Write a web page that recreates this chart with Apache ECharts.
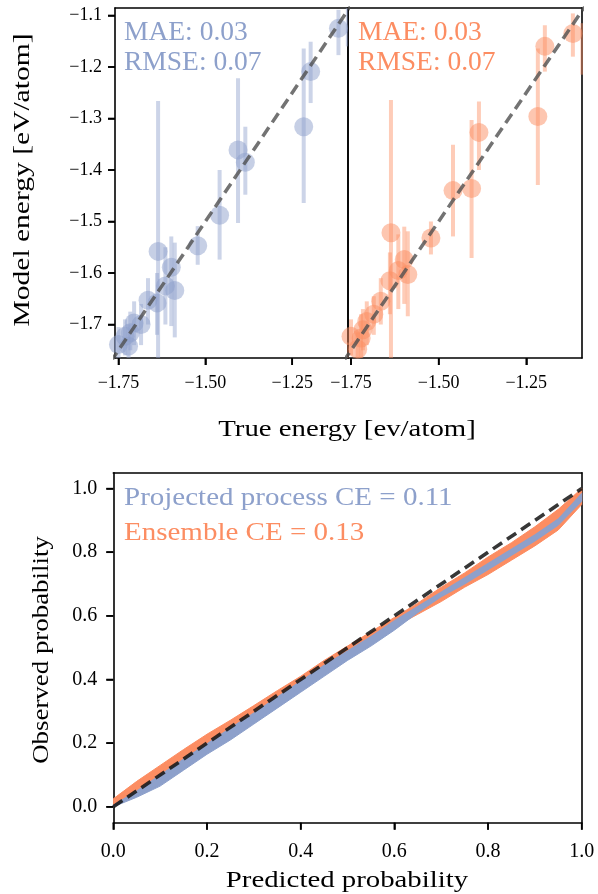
<!DOCTYPE html>
<html><head><meta charset="utf-8">
<script src="https://cdn.jsdelivr.net/npm/echarts@6/dist/echarts.min.js"></script>
<style>html,body{margin:0;padding:0;background:#fff}#c{width:598px;height:894px}</style>
</head><body><div id="c"></div>
<script>
// ---- data ----
const trueE   = [-1.762,-1.750,-1.731,-1.721,-1.716,-1.705,-1.685,-1.665,-1.639,-1.636,-1.615,-1.598,-1.588,-1.522,-1.459,-1.406,-1.385,-1.217,-1.197,-1.117,-1.090];
const ppMean  = [-1.752,-1.739,-1.723,-1.742,-1.716,-1.697,-1.700,-1.653,-1.658,-1.558,-1.625,-1.589,-1.634,-1.547,-1.488,-1.361,-1.385,-1.316,-1.209,-1.125,-1.120];
const ppLo    = [-1.780,-1.770,-1.760,-1.780,-1.750,-1.740,-1.740,-1.700,-1.720,-1.850,-1.700,-1.703,-1.725,-1.584,-1.574,-1.503,-1.448,-1.464,-1.270,-1.177,-1.160];
const ppHi    = [-1.725,-1.705,-1.690,-1.700,-1.675,-1.655,-1.660,-1.610,-1.600,-1.266,-1.550,-1.529,-1.541,-1.509,-1.400,-1.222,-1.316,-1.164,-1.151,-1.089,-1.070];
const ensMean = [-1.765,-1.723,-1.748,-1.726,-1.710,-1.694,-1.680,-1.655,-1.615,-1.522,-1.595,-1.574,-1.603,-1.532,-1.440,-1.436,-1.327,-1.296,-1.160,-1.135,-1.134];
const ensLo   = [-1.800,-1.760,-1.780,-1.770,-1.750,-1.740,-1.720,-1.700,-1.680,-1.780,-1.670,-1.660,-1.684,-1.564,-1.529,-1.571,-1.400,-1.429,-1.209,-1.180,-1.215];
const ensHi   = [-1.735,-1.690,-1.715,-1.680,-1.670,-1.655,-1.645,-1.610,-1.560,-1.264,-1.525,-1.510,-1.519,-1.500,-1.351,-1.303,-1.267,-1.164,-1.119,-1.096,-1.115];
const diag = [-1.8, -1.0];
const energyYTicks = [-1.7,-1.6,-1.5,-1.4,-1.3,-1.2,-1.1];
const energyXTicks = [-1.75,-1.5,-1.25];

const probX     = [0,0.05,0.1,0.15,0.2,0.25,0.3,0.35,0.4,0.45,0.5,0.55,0.6,0.65,0.7,0.75,0.8,0.85,0.9,0.95,1.0];
const ensBandLo = [0,0.045,0.095,0.145,0.195,0.245,0.29,0.34,0.39,0.435,0.48,0.525,0.565,0.605,0.645,0.69,0.73,0.775,0.82,0.87,0.95];
const ensBandHi = [0.025,0.08,0.13,0.18,0.228,0.272,0.318,0.365,0.41,0.46,0.505,0.55,0.595,0.64,0.69,0.735,0.785,0.83,0.88,0.935,1.0];
const ppBandLo  = [0,0.03,0.065,0.115,0.165,0.21,0.26,0.31,0.36,0.41,0.46,0.505,0.555,0.61,0.66,0.70,0.745,0.79,0.835,0.885,0.96];
const ppBandHi  = [0.005,0.05,0.1,0.15,0.198,0.248,0.295,0.345,0.395,0.445,0.49,0.535,0.585,0.63,0.675,0.72,0.765,0.81,0.855,0.905,0.985];
const probDiag = [0, 1];
const probTicks = [0,0.2,0.4,0.6,0.8,1.0];

// ---- style ----
const BLUE = '#8da0cb', ORANGE = '#fc8d62';
const FONT = 'Liberation Serif';
const TICK = 7;
const fmt = d => v => (v < 0 ? '\u2212' : '') + Math.abs(v).toFixed(d);

const chart = echarts.init(document.getElementById('c'), null, {renderer: 'canvas'});

function grid(l, t, w, h) {
  return {left: l, top: t, width: w, height: h, show: false, containLabel: false};
}
const AXLINE = {show: true, onZero: false, lineStyle: {color: '#000', width: 1.6}};
function mainAx(gi, pos, min, max, ticks, dec, size, margin, showLab) {
  return {type: 'value', gridIndex: gi, position: pos, min, max, splitLine: {show: false},
    axisLine: AXLINE,
    axisTick: {show: showLab, inside: false, length: TICK, lineStyle: {color: '#000', width: 1.6}, customValues: ticks},
    axisLabel: {show: showLab, customValues: ticks, formatter: fmt(dec), fontFamily: FONT, fontSize: size, color: '#000', margin}};
}
function frameAx(gi, pos, min, max) {
  return {type: 'value', gridIndex: gi, position: pos, min, max, splitLine: {show: false},
    axisLine: AXLINE, axisTick: {show: false}, axisLabel: {show: false}};
}

function errSeries(xi, yi, lo, hi, color) {
  return {type: 'custom', xAxisIndex: xi, yAxisIndex: yi, clip: true, z: 2,
    data: trueE.map((t, i) => [t, lo[i], hi[i]]),
    encode: {x: 0, y: [1, 2]},
    renderItem: (params, api) => {
      const a = api.coord([api.value(0), api.value(1)]);
      const b = api.coord([api.value(0), api.value(2)]);
      return {type: 'line', shape: {x1: a[0], y1: a[1], x2: b[0], y2: b[1]},
        style: {stroke: color, lineWidth: 4, opacity: 0.45}};
    }};
}
function ptSeries(xi, yi, mean, color) {
  return {type: 'scatter', xAxisIndex: xi, yAxisIndex: yi, clip: true, z: 3,
    symbolSize: 19, itemStyle: {color: color, opacity: 0.5},
    data: trueE.map((t, i) => [t, mean[i]])};
}
function diagSeries(xi, yi, vals, color, w) {
  return {type: 'line', xAxisIndex: xi, yAxisIndex: yi, z: 5, showSymbol: false, symbol: 'none', clip: true,
    data: vals.map(v => [v, v]), lineStyle: {color, width: w, type: [11, 6]}, silent: true};
}
function bandSeries(lo, hi, color, z) {
  return {type: 'custom', xAxisIndex: 2, yAxisIndex: 2, clip: true, z,
    data: [[probX[0], lo[0]]], encode: {x: 0, y: 1},
    renderItem: (params, api) => {
      const pts = [];
      for (let i = 0; i < probX.length; i++) pts.push(api.coord([probX[i], hi[i]]));
      for (let i = probX.length - 1; i >= 0; i--) pts.push(api.coord([probX[i], lo[i]]));
      return {type: 'polygon', shape: {points: pts}, style: {fill: color, stroke: color, lineWidth: 1}};
    }};
}
function title(text, x, y, rot, sx) {
  return {type: 'text', x, y, rotation: rot, scaleX: sx, z: 10,
    style: {text, font: '24px "Liberation Serif"', fill: '#000', textAlign: 'center', textVerticalAlign: 'middle'}};
}

const eMinX = -1.76, eMaxX = -1.091, eMinY = -1.765, eMaxY = -1.0855;
const pMinY = -0.05, pMaxY = 1.05;

const texts = [
  {type: 'text', left: 124, top: 18, z: 10, style: {text: 'MAE: 0.03\nRMSE: 0.07', font: '27.5px "Liberation Serif"', fill: BLUE, lineHeight: 30}},
  {type: 'text', left: 358, top: 18, z: 10, style: {text: 'MAE: 0.03\nRMSE: 0.07', font: '27.5px "Liberation Serif"', fill: ORANGE, lineHeight: 30}},
  {type: 'text', x: 124, y: 498, scaleX: 1.16, z: 10, style: {text: 'Projected process CE = 0.11', font: '25px "Liberation Serif"', fill: BLUE, textVerticalAlign: 'middle'}},
  {type: 'text', x: 124, y: 533, scaleX: 1.16, z: 10, style: {text: 'Ensemble CE = 0.13', font: '25px "Liberation Serif"', fill: ORANGE, textVerticalAlign: 'middle'}},
  title('True energy [ev/atom]', 347, 430, 0, 1.2),
  title('Predicted probability', 347, 881, 0, 1.2),
  title('Model energy [eV/atom]', 23, 180, Math.PI / 2, 1.23),
  title('Observed probability', 42, 650, Math.PI / 2, 1.12)
];

const option = {
  animation: false,
  grid: [grid(115, 8, 232.5, 350), grid(347.5, 8, 234.5, 350), grid(113.3, 472.7, 468.4, 350)],
  xAxis: [
    mainAx(0, 'bottom', eMinX, eMaxX, energyXTicks, 2, 18, 16, true),
    mainAx(1, 'bottom', eMinX, eMaxX, energyXTicks, 2, 18, 16, true),
    mainAx(2, 'bottom', 0, 1, probTicks, 1, 20, 19, true),
    frameAx(0, 'top', eMinX, eMaxX),
    frameAx(1, 'top', eMinX, eMaxX),
    frameAx(2, 'top', 0, 1)
  ],
  yAxis: [
    mainAx(0, 'left', eMinY, eMaxY, energyYTicks, 1, 18, 13, true),
    mainAx(1, 'left', eMinY, eMaxY, energyYTicks, 1, 18, 13, false),
    mainAx(2, 'left', pMinY, pMaxY, probTicks, 1, 20, 16, true),
    frameAx(0, 'right', eMinY, eMaxY),
    frameAx(1, 'right', eMinY, eMaxY),
    frameAx(2, 'right', pMinY, pMaxY)
  ],
  series: [
    errSeries(0, 0, ppLo, ppHi, BLUE),
    ptSeries(0, 0, ppMean, BLUE),
    diagSeries(0, 0, diag, 'rgba(80,80,80,0.8)', 3.5),
    errSeries(1, 1, ensLo, ensHi, ORANGE),
    ptSeries(1, 1, ensMean, ORANGE),
    diagSeries(1, 1, diag, 'rgba(80,80,80,0.8)', 3.5),
    bandSeries(ensBandLo, ensBandHi, ORANGE, 2),
    bandSeries(ppBandLo, ppBandHi, BLUE, 3),
    diagSeries(2, 2, probDiag, 'rgba(20,20,20,0.85)', 3.6)
  ],
  graphic: texts
};
chart.setOption(option);

// extra tick marks placed through the axes' own scales (convertToPixel)
try {
  const tickEls = [];
  const addX = (gi, ticks, yVal) => ticks.forEach(v => {
    const px = chart.convertToPixel({xAxisIndex: gi}, v);
    const py = chart.convertToPixel({yAxisIndex: gi}, yVal);
    if (isFinite(px) && isFinite(py)) tickEls.push({type: 'rect', z: 100, shape: {x: px - 0.8, y: py, width: 1.6, height: TICK}, style: {fill: '#000'}});
  });
  const addY = (gi, ticks, xVal) => ticks.forEach(v => {
    const px = chart.convertToPixel({xAxisIndex: gi}, xVal);
    const py = chart.convertToPixel({yAxisIndex: gi}, v);
    if (isFinite(px) && isFinite(py)) tickEls.push({type: 'rect', z: 100, shape: {x: px - TICK, y: py - 0.8, width: TICK, height: 1.6}, style: {fill: '#000'}});
  });
  addX(0, energyXTicks, eMinY);
  addX(1, energyXTicks, eMinY);
  addY(0, energyYTicks, eMinX);
  addX(2, probTicks, pMinY);
  addY(2, probTicks, 0);
  chart.setOption({graphic: texts.concat(tickEls)});
} catch (e) { console.error(e); }
</script></body></html>
